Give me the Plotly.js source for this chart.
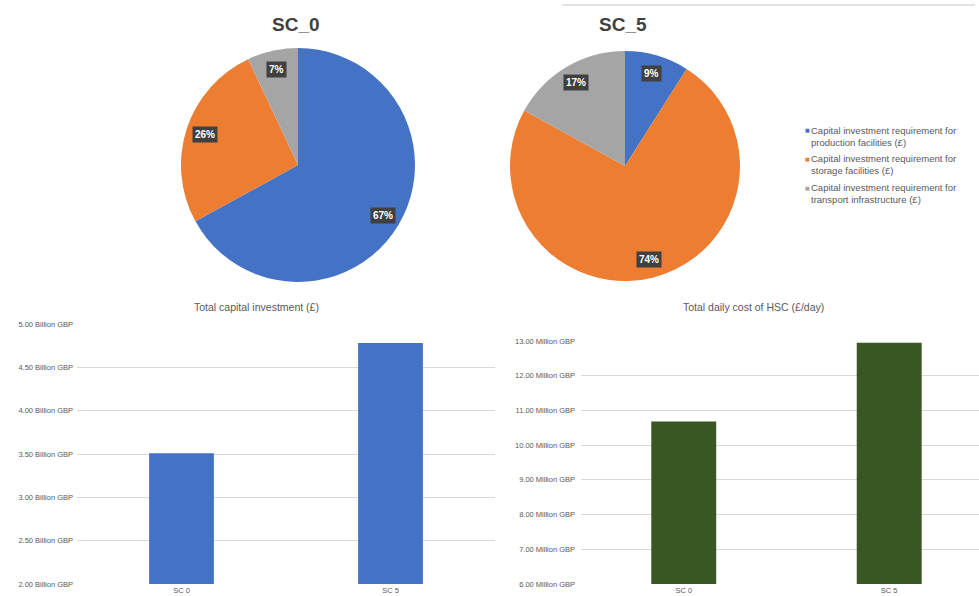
<!DOCTYPE html>
<html>
<head>
<meta charset="utf-8">
<script src="https://cdn.plot.ly/plotly-3.0.1.min.js"></script>
<style>
html,body{margin:0;padding:0;background:#fff;}
#chart{width:979px;height:596px;}
</style>
</head>
<body>
<div id="chart"></div>
<script>
// ---- data ----
var sliceLabels = [
  "Capital investment requirement for<br>production facilities (£)",
  "Capital investment requirement for<br>storage facilities (£)",
  "Capital investment requirement for<br>transport infrastructure (£)"
];
var pieTitles = ["SC_0", "SC_5"];
var sc0Shares = [67, 26, 7];
var sc5Shares = [9, 74, 17];
var scenarios = ["SC 0", "SC 5"];
var capitalBillion = [3.51, 4.78];
var dailyCostMillion = [10.68, 12.95];
var chartTitles = ["Total capital investment (£)", "Total daily cost of HSC (£/day)"];

// ---- styles ----
var W = 979, H = 596;
var sliceColors = ["#4472C4", "#ED7D31", "#A5A5A5"];
var FONT = "Liberation Sans, Arial, sans-serif";
var GREY = "#595959";

function px(x){return x / W;}
function py(y){return 1 - y / H;}

var pieDomains = [
  {x: [px(181), px(415)], y: [py(282), py(48)]},
  {x: [px(510), px(740)], y: [py(281), py(51)]}
];
var pieValues = [sc0Shares, sc5Shares];

var traces = [];
pieValues.forEach(function(vals, i){
  traces.push({
    type: "pie",
    labels: sliceLabels,
    values: vals,
    sort: false,
    direction: "clockwise",
    rotation: 0,
    textinfo: "none",
    hoverinfo: "label+percent",
    marker: {colors: sliceColors, line: {width: 0}},
    domain: pieDomains[i],
    showlegend: false
  });
});

traces.push({
  type: "bar", x: scenarios, y: capitalBillion, xaxis: "x", yaxis: "y",
  marker: {color: "#4472C4"}, width: 0.31, showlegend: false, hoverinfo: "x+y"
});
traces.push({
  type: "bar", x: scenarios, y: dailyCostMillion, xaxis: "x2", yaxis: "y2",
  marker: {color: "#385723"}, width: 0.316, showlegend: false, hoverinfo: "x+y"
});

function ann(o){
  return Object.assign({xref: "paper", yref: "paper", showarrow: false,
    xanchor: "center", yanchor: "middle"}, o);
}

// ---- annotations: pie percentage labels computed from data ----
var annotations = [];
pieValues.forEach(function(vals, i){
  var d = pieDomains[i];
  var cx = (d.x[0] + d.x[1]) / 2 * W;
  var cy = (1 - (d.y[0] + d.y[1]) / 2) * H;
  var r = Math.min((d.x[1] - d.x[0]) * W, (d.y[1] - d.y[0]) * H) / 2;
  var total = vals.reduce(function(a, b){return a + b;}, 0);
  var cum = 0;
  vals.forEach(function(v){
    var mid = (cum + v / 2) / total;
    cum += v;
    var th = 2 * Math.PI * mid;
    var lx = cx + 0.84 * r * Math.sin(th);
    var ly = cy - 0.84 * r * Math.cos(th);
    annotations.push(ann({
      x: px(lx), y: py(ly),
      text: "<b>" + Math.round(v / total * 100) + "%</b>",
      bgcolor: "#404040", borderpad: 2,
      font: {family: FONT, size: 10, color: "#ffffff"}
    }));
  });
  annotations.push(ann({
    x: px(cx - 2), y: py(25),
    text: "<b>" + pieTitles[i] + "</b>",
    font: {family: FONT, size: 19, color: "#404040"}
  }));
});
annotations.push(ann({
  x: px(256), y: py(307), text: chartTitles[0],
  font: {family: FONT, size: 10.5, color: GREY}
}));
annotations.push(ann({
  x: px(753), y: py(307), text: chartTitles[1],
  font: {family: FONT, size: 10.5, color: GREY}
}));

// ---- legend built from the slice labels / colours ----
sliceLabels.forEach(function(lab, i){
  var yc = 136.5 + i * 28.5;
  annotations.push(ann({
    x: px(810), y: py(yc), xanchor: "left", align: "left",
    text: lab, borderpad: 0,
    font: {family: FONT, size: 9.5, color: GREY}
  }));
  annotations.push(ann({
    x: px(807), y: py(yc - 6), text: "■", borderpad: 0,
    font: {family: "DejaVu Sans, sans-serif", size: 5, color: sliceColors[i]}
  }));
});

var axisX = {
  showgrid: false, zeroline: false, showline: false, ticks: "",
  tickfont: {family: FONT, size: 7.5, color: GREY}, fixedrange: true
};
var axisY = {
  showgrid: true, gridcolor: "#d9d9d9", gridwidth: 1, zeroline: false,
  showline: false, ticks: "", tickformat: ".2f",
  tickfont: {family: FONT, size: 7.5, color: GREY}, fixedrange: true
};

var layout = {
  width: W, height: H,
  margin: {l: 0, r: 0, t: 0, b: 0},
  paper_bgcolor: "#ffffff", plot_bgcolor: "#ffffff",
  font: {family: FONT, color: GREY},
  showlegend: false,
  xaxis: Object.assign({}, axisX, {domain: [px(77), px(495)], anchor: "y", range: [-0.5, 1.5]}),
  yaxis: Object.assign({}, axisY, {domain: [py(584), py(324)], anchor: "x", range: [2, 5], dtick: 0.5, ticksuffix: " Billion GBP", ticklabelstandoff: 3}),
  xaxis2: Object.assign({}, axisX, {domain: [px(581), 1], anchor: "y2", range: [-0.5, 1.437]}),
  yaxis2: Object.assign({}, axisY, {domain: [py(584), py(341)], anchor: "x2", range: [6, 13], dtick: 1, ticksuffix: " Million GBP", ticklabelstandoff: 5}),
  annotations: annotations,
  shapes: [{
    type: "line", xref: "paper", yref: "paper",
    x0: px(562), x1: px(975), y0: py(5), y1: py(5),
    line: {color: "#e3e3e3", width: 2}
  }]
};

Plotly.newPlot("chart", traces, layout, {displayModeBar: false, staticPlot: true});
</script>
</body>
</html>
